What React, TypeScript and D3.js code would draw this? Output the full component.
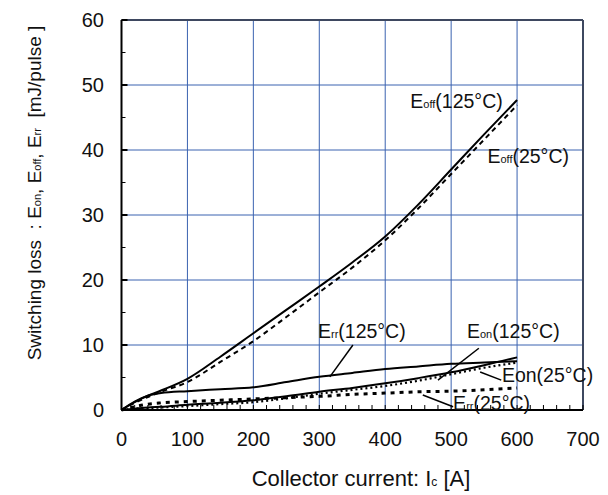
import React from 'react';
import * as d3 from 'd3';

// collector current samples [A]
const current = [0, 20, 40, 60, 100, 150, 200, 250, 300, 350, 400, 450, 500, 550, 600];

// switching losses [mJ/pulse]
const eoff125 = [0, 1.2, 2.2, 3.0, 4.8, 8.2, 11.8, 15.4, 19.0, 22.7, 26.7, 31.6, 37.0, 42.4, 47.7];
const eoff25 = [0, 1.1, 2.0, 2.8, 4.3, 7.4, 10.6, 14.3, 18.1, 21.9, 26.1, 31.0, 36.3, 41.6, 46.9];
const err125 = [0, 1.3, 2.2, 2.6, 2.9, 3.2, 3.5, 4.3, 5.1, 5.7, 6.3, 6.7, 7.1, 7.3, 7.5];
const eon125 = [0, 0.2, 0.4, 0.5, 0.8, 1.1, 1.5, 2.1, 2.8, 3.4, 4.1, 4.9, 5.8, 6.9, 8.1];
const eon25 = [0, 0.2, 0.3, 0.4, 0.6, 0.9, 1.2, 1.8, 2.5, 3.1, 3.7, 4.5, 5.5, 6.5, 7.3];
const err25 = [0, 0.5, 0.9, 1.1, 1.3, 1.5, 1.7, 1.9, 2.1, 2.4, 2.6, 2.8, 2.9, 3.1, 3.4];

const xTicks = [0, 100, 200, 300, 400, 500, 600, 700];
const yTicks = [0, 10, 20, 30, 40, 50, 60];

const W = 608;
const H = 495;
const FONT = 'Liberation Sans, Arial, sans-serif';
const GRID = '#3a62b0';
const FRAME = '#3e4860';

const x = d3.scaleLinear().domain([0, 700]).range([121.5, 583]);
const y = d3.scaleLinear().domain([0, 60]).range([410, 20]);

const line = (vals: number[]) =>
  d3.line<number>()
    .x((_, i) => x(current[i]))
    .y(d => y(d))
    .curve(d3.curveMonotoneX)(vals) || '';

const series = [
  { vals: eoff125, dash: null, w: 2 },
  { vals: eoff25, dash: '5,4', w: 2 },
  { vals: err125, dash: null, w: 2 },
  { vals: eon125, dash: null, w: 2 },
  { vals: eon25, dash: '2,3', w: 2.2 },
  { vals: err25, dash: '4,5', w: 3 },
];

// label text pieces, anchor and leader line in data units
type Piece = { t: string; sub?: boolean };
const labels: { parts: Piece[]; at: [number, number]; lead?: [number, number, number, number] }[] = [
  { parts: [{ t: 'E' }, { t: 'off', sub: true }, { t: '(125°C)' }], at: [438, 46.5] },
  { parts: [{ t: 'E' }, { t: 'off', sub: true }, { t: '(25°C)' }], at: [555, 38] },
  { parts: [{ t: 'E' }, { t: 'rr', sub: true }, { t: '(125°C)' }], at: [298, 11.1], lead: [351, 10.0, 316, 5.1] },
  { parts: [{ t: 'E' }, { t: 'on', sub: true }, { t: '(125°C)' }], at: [524, 11.1], lead: [542, 9.5, 480, 4.6] },
  { parts: [{ t: 'Eon(25°C)' }], at: [577, 4.35], lead: [544, 5.85, 576, 4.6] },
  { parts: [{ t: 'E' }, { t: 'rr', sub: true }, { t: '(25°C)' }], at: [503, 0.05], lead: [457, 2.3, 503, 0.5] },
];

const Label = ({ parts, px, py }: { parts: Piece[]; px: number; py: number }) => (
  <text x={px} y={py} fontFamily={FONT} fontSize={19.5} fill="#111">
    {parts.map((p, i) => (
      <tspan key={i} fontSize={p.sub ? 11 : 19.5}>{p.t}</tspan>
    ))}
  </text>
);

export default function App() {
  const minorX = d3.range(0, 701, 20);
  const minorY = d3.range(5, 60, 10);
  const [x0, x1] = x.range();
  const [y0, y1] = y.range();

  return (
    <svg width={W} height={H} style={{ position: 'absolute', left: 0, top: 0, background: '#fff' }}>
      {/* grid */}
      {xTicks.slice(1, -1).map(t => (
        <line key={'gx' + t} x1={x(t)} x2={x(t)} y1={y0} y2={y1} stroke={GRID} strokeWidth={1} />
      ))}
      {yTicks.slice(1, -1).map(t => (
        <line key={'gy' + t} x1={x0} x2={x1} y1={y(t)} y2={y(t)} stroke={GRID} strokeWidth={1} />
      ))}
      {/* frame */}
      <line x1={x0} x2={x1} y1={y1} y2={y1} stroke={FRAME} strokeWidth={2} />
      <line x1={x1} x2={x1} y1={y1} y2={y0} stroke={FRAME} strokeWidth={2} />
      <line x1={x0} x2={x1} y1={y0} y2={y0} stroke="#000" strokeWidth={2} />
      <line x1={x0} x2={x0} y1={y0} y2={y1} stroke="#000" strokeWidth={2} />

      {/* ticks */}
      {minorX.map(t => (
        <line key={'tx' + t} x1={x(t)} x2={x(t)} y1={y0} y2={y0 - 5} stroke="#000" strokeWidth={1} />
      ))}
      {yTicks.map(t => (
        <line key={'ty' + t} x1={x0} x2={x0 + 6} y1={y(t)} y2={y(t)} stroke="#000" strokeWidth={2} />
      ))}
      {minorY.map(t => (
        <line key={'my' + t} x1={x0} x2={x0 + 4} y1={y(t)} y2={y(t)} stroke="#000" strokeWidth={1} />
      ))}

      {/* tick labels */}
      {xTicks.map(t => (
        <text key={'lx' + t} x={x(t)} y={446} textAnchor="middle" fontFamily={FONT} fontSize={20} fill="#111">{t}</text>
      ))}
      {yTicks.map(t => (
        <text key={'ly' + t} x={104} y={y(t)} dy="0.35em" textAnchor="end" fontFamily={FONT} fontSize={20} fill="#111">{t}</text>
      ))}

      {/* curves */}
      {series.map((s, i) => (
        <path key={'s' + i} d={line(s.vals)} fill="none" stroke="#000" strokeWidth={s.w}
          strokeDasharray={s.dash || undefined} />
      ))}

      {/* annotations */}
      {labels.map((l, i) => (
        <g key={'a' + i}>
          {l.lead && (
            <line x1={x(l.lead[0])} y1={y(l.lead[1])} x2={x(l.lead[2])} y2={y(l.lead[3])} stroke="#000" strokeWidth={1.5} />
          )}
          <Label parts={l.parts} px={x(l.at[0])} py={y(l.at[1])} />
        </g>
      ))}

      {/* axis titles */}
      <text x={361} y={486} textAnchor="middle" fontFamily={FONT} fontSize={22} fill="#111">
        Collector current: I<tspan fontSize={12}>c</tspan> [A]
      </text>
      <text transform={`translate(41,${(y0 + y1) / 2 - 22}) rotate(-90)`} textAnchor="middle" fontFamily={FONT}
        fontSize={19} fill="#111" style={{ whiteSpace: 'pre' }}>
        {'Switching loss  : E'}<tspan fontSize={11}>on</tspan>{', E'}<tspan fontSize={11}>off</tspan>{', E'}<tspan fontSize={11}>rr</tspan>{'  [mJ/pulse ]'}
      </text>
    </svg>
  );
}
